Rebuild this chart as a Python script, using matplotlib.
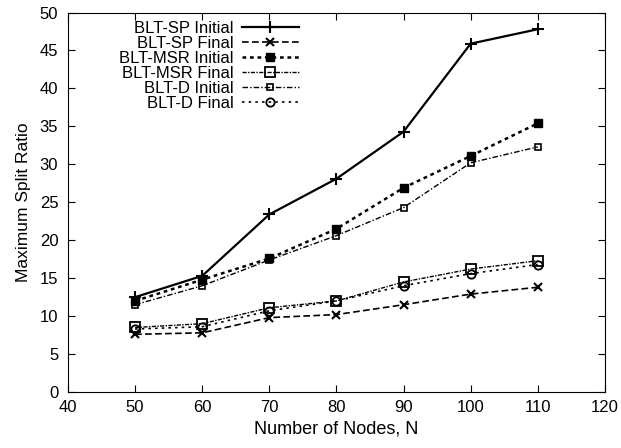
import numpy as np
import matplotlib
matplotlib.use("Agg")
import matplotlib.pyplot as plt

plt.rcParams['font.family'] = ['Liberation Sans', 'DejaVu Sans']

nodes = [50, 60, 70, 80, 90, 100, 110]
sp_initial = [12.5, 15.3, 23.4, 28.1, 34.3, 45.9, 47.8]
sp_final = [7.6, 7.8, 9.8, 10.2, 11.5, 12.9, 13.8]
msr_initial = [12.0, 14.8, 17.6, 21.5, 26.9, 31.1, 35.4]
msr_final = [8.5, 9.0, 11.1, 12.0, 14.5, 16.2, 17.3]
d_initial = [11.5, 14.0, 17.4, 20.6, 24.3, 30.2, 32.3]
d_final = [8.3, 8.6, 10.7, 12.0, 14.0, 15.6, 16.8]

fig = plt.figure(figsize=(6.21, 4.48), dpi=100)
ax = fig.add_axes([0.1095, 0.125, 0.8645, 0.847])

ax.plot(nodes, sp_initial, color='black', lw=1.6, ls='-', marker='+', ms=8, mew=1.5, label='BLT-SP Initial')
ax.plot(nodes, sp_final, color='black', lw=1.2, ls=(0, (4, 2)), marker='x', ms=6, mew=1.5, label='BLT-SP Final')
ax.plot(nodes, msr_initial, color='black', lw=1.8, ls=(0, (1.5, 1.5)), marker='s', ms=6, label='BLT-MSR Initial')
ax.plot(nodes, msr_final, color='black', lw=1.0, ls=(0, (3, 1, 1, 1)), marker='s', ms=7, mfc='none', mew=1.3, label='BLT-MSR Final')
ax.plot(nodes, d_initial, color='black', lw=1.0, ls=(0, (4, 1.5, 1, 1.5)), marker='s', ms=5, mfc='none', mew=1.2, label='BLT-D Initial')
ax.plot(nodes, d_final, color='black', lw=1.2, ls=(0, (1.5, 2.5)), marker='o', ms=6, mfc='none', mew=1.3, label='BLT-D Final')

ax.set_xlim(40, 120)
ax.set_ylim(0, 50)
ax.set_xticks(np.arange(40, 121, 10))
ax.set_yticks(np.arange(0, 51, 5))
ax.tick_params(direction='in', top=True, right=True, labelsize=12, length=5)
ax.tick_params(axis='y', pad=7)
ax.tick_params(axis='x', pad=6)
ax.set_xlabel('Number of Nodes, N', fontsize=13, labelpad=4)
ax.set_ylabel('Maximum Split Ratio', fontsize=12.5, labelpad=6)

leg = ax.legend(loc='upper left', bbox_to_anchor=(0.08, 1.0), frameon=False, markerfirst=False,
                fontsize=12, handlelength=3.4, labelspacing=0.0, borderaxespad=0.1, handletextpad=0.5)
for t in leg.get_texts():
    t.set_ha('right')
leg._legend_box.align = 'right'

fig.savefig('out.png', dpi=100)
